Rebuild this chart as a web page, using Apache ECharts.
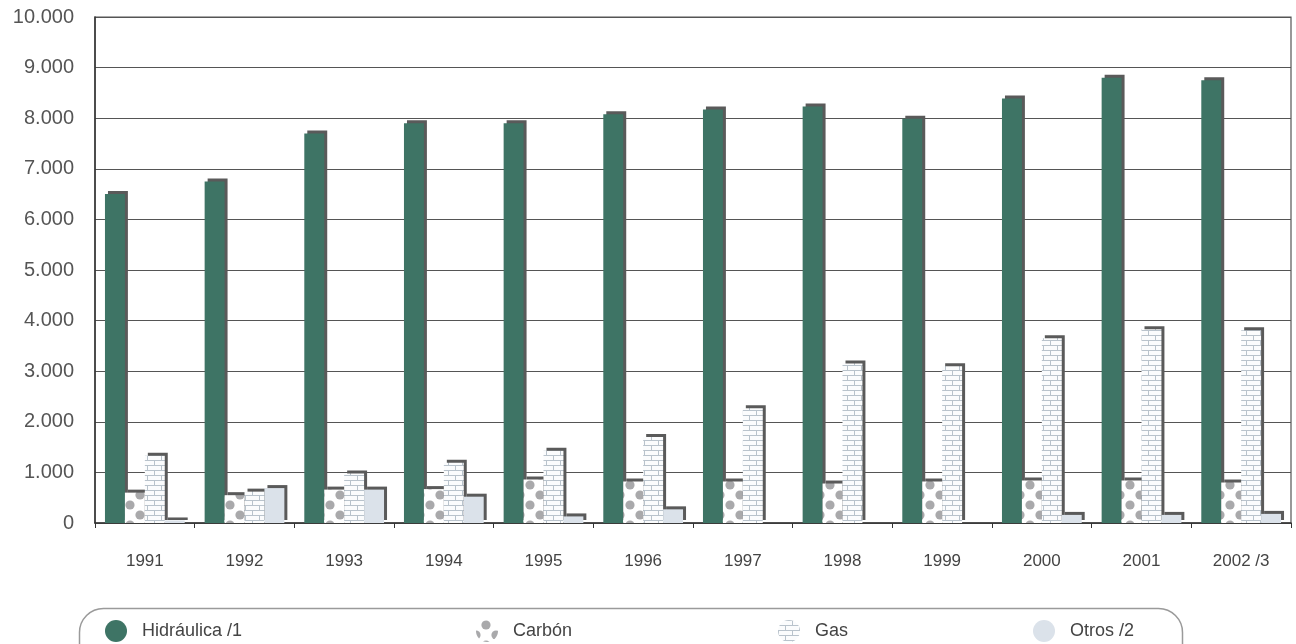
<!DOCTYPE html>
<html><head><meta charset="utf-8">
<script src="https://cdn.jsdelivr.net/npm/echarts@6/dist/echarts.min.js"></script>
<style>html,body{margin:0;padding:0;background:#fff}#c{width:1296px;height:644px}</style>
</head><body><div id="c"></div>
<script>
const years = ['1991','1992','1993','1994','1995','1996','1997','1998','1999','2000','2001','2002 /3'];
const hidraulica = [6500, 6750, 7700, 7900, 7900, 8080, 8170, 8230, 7990, 8390, 8800, 8750];
const carbon = [600, 550, 660, 670, 860, 820, 820, 780, 820, 840, 840, 800];
const gas = [1330, 620, 980, 1190, 1430, 1700, 2270, 3150, 3100, 3650, 3830, 3810];
const otros = [50, 690, 660, 520, 130, 270, 0, 0, 0, 160, 160, 180];
const seriesNames = ['Hidráulica /1', 'Carbón', 'Gas', 'Otros /2'];

const FONT = '"Liberation Sans", Arial, sans-serif';

function dotTile() {
  const c = document.createElement('canvas'); c.width = 20; c.height = 20;
  const g = c.getContext('2d');
  g.fillStyle = '#ffffff'; g.fillRect(0, 0, 20, 20);
  g.fillStyle = '#a9a9ab';
  [[10, 5], [0, 15], [20, 15], [10, 25], [10, -15]].forEach(p => {
    g.beginPath(); g.arc(p[0], p[1], 4.6, 0, Math.PI * 2); g.fill();
  });
  return c;
}
function brickTile() {
  const c = document.createElement('canvas'); c.width = 14; c.height = 10;
  const g = c.getContext('2d');
  g.fillStyle = '#fbfcfd'; g.fillRect(0, 0, 14, 10);
  g.strokeStyle = '#b9c3cc'; g.lineWidth = 1;
  g.beginPath();
  g.moveTo(0, 0.5); g.lineTo(14, 0.5);
  g.moveTo(0, 5.5); g.lineTo(14, 5.5);
  g.moveTo(0.5, 0); g.lineTo(0.5, 5);
  g.moveTo(7.5, 5); g.lineTo(7.5, 10);
  g.stroke();
  return c;
}

const shadow = { shadowColor: '#5a5a5a', shadowOffsetX: 3, shadowOffsetY: -3, shadowBlur: 0 };
const colors = [
  '#3e7465',
  { image: dotTile(), repeat: 'repeat' },
  { image: brickTile(), repeat: 'repeat' },
  '#dbe2ea'
];
const values = [hidraulica, carbon, gas, otros];

const chart = echarts.init(document.getElementById('c'), null, { renderer: 'canvas' });

function legendAt(left, name) {
  return {
    left: left, top: 615, orient: 'horizontal', icon: 'circle',
    itemWidth: 22, itemHeight: 22, selectedMode: false,
    data: [name],
    textStyle: { fontSize: 18, color: '#444', fontFamily: FONT, padding: [0, 0, 0, 10] }
  };
}

chart.setOption({
  animation: false,
  backgroundColor: '#ffffff',
  textStyle: { fontFamily: FONT },
  grid: { left: 95, right: 5, top: 17, bottom: 121, show: true, borderColor: '#555', borderWidth: 1.2 },
  legend: [
    legendAt(100, seriesNames[0]),
    legendAt(471, seriesNames[1]),
    legendAt(773, seriesNames[2]),
    legendAt(1028, seriesNames[3])
  ],
  graphic: [{
    type: 'rect', left: 77, top: 606, z: -1,
    shape: { width: 1103, height: 70, r: 24 },
    style: { fill: 'none', stroke: '#9a9a9a', lineWidth: 1.5 }
  }],
  xAxis: {
    type: 'category', data: years,
    axisLine: { show: true, lineStyle: { color: '#333', width: 1.5 } },
    axisTick: { show: true, length: 5, lineStyle: { color: '#333' } },
    axisLabel: { fontSize: 17, color: '#444', margin: 30, fontFamily: FONT }
  },
  yAxis: {
    type: 'value', min: 0, max: 10000, interval: 1000,
    axisLine: { show: true, lineStyle: { color: '#333', width: 1.5 } },
    axisTick: { show: false },
    splitLine: { lineStyle: { color: '#555', width: 1.2 } },
    axisLabel: {
      fontSize: 20, color: '#555', margin: 21, fontFamily: FONT,
      formatter: v => v === 0 ? '0' : String(v).replace(/\B(?=(\d{3})+(?!\d))/g, '.')
    }
  },
  series: seriesNames.map((n, i) => ({
    name: n, type: 'bar', data: values[i],
    barGap: '0%', barCategoryGap: '20%',
    itemStyle: Object.assign({ color: colors[i] }, shadow),
    emphasis: { disabled: true }
  }))
});
</script>
</body></html>
